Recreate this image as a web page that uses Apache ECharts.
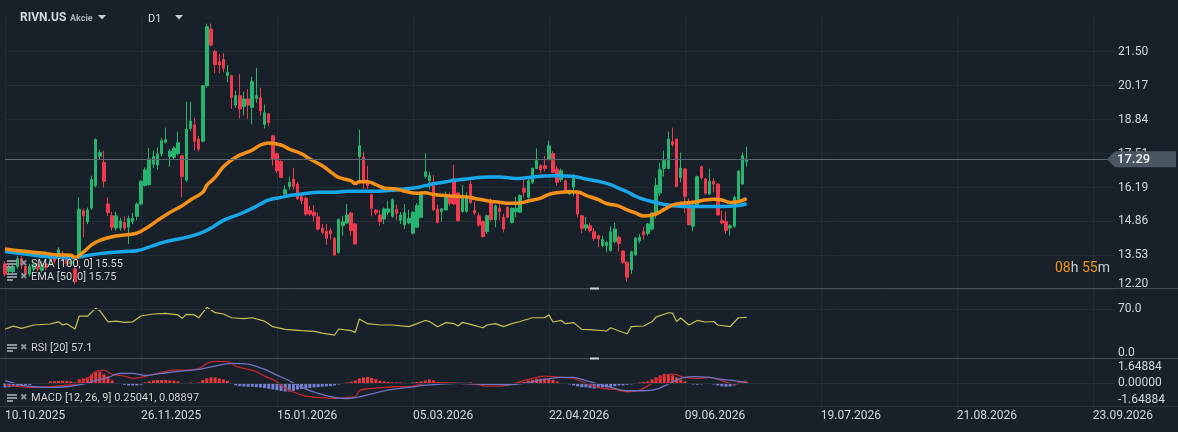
<!DOCTYPE html>
<html><head><meta charset="utf-8">
<script src="https://cdn.jsdelivr.net/npm/echarts@6/dist/echarts.min.js"></script>
<style>html,body{margin:0;padding:0;background:#18212a;}#c{width:1178px;height:432px;}</style>
</head><body><div id="c"></div>
<script>
// ---- data ----
const tickLabels = ['10.10.2025','26.11.2025','15.01.2026','05.03.2026','22.04.2026','09.06.2026','19.07.2026','21.08.2026','23.09.2026'];
const opens = [13.20,12.90,12.90,13.10,13.40,13.10,12.80,13.00,13.20,12.95,13.20,13.20,13.45,13.55,13.60,13.40,13.20,13.00,13.52,15.28,
14.85,15.38,16.26,17.41,17.17,15.54,15.08,14.60,14.60,14.82,14.63,14.85,15.06,15.54,16.26,16.30,17.10,17.07,17.50,17.96,
17.40,17.37,17.52,17.43,16.47,18.50,18.64,18.08,18.00,20.17,22.39,21.50,21.11,21.19,20.56,20.56,19.41,19.78,19.36,19.65,
19.32,19.67,19.70,18.66,19.06,18.21,17.51,17.20,15.93,16.23,16.52,16.32,15.83,15.77,15.28,15.22,15.04,14.59,14.47,14.50,
14.20,13.65,14.69,14.80,15.19,14.76,17.40,17.38,16.41,15.90,15.30,15.11,14.95,15.22,15.06,15.32,14.90,14.72,14.80,14.40,
14.63,15.02,16.62,16.45,16.35,15.35,15.24,15.31,15.76,16.52,15.97,15.25,15.25,16.32,15.30,15.08,14.86,14.46,15.60,14.92,
15.38,15.02,15.41,14.82,15.24,15.22,16.15,15.80,16.39,16.93,17.04,17.04,17.30,17.52,16.91,16.49,16.45,15.93,16.20,16.00,
15.08,14.60,14.69,14.46,14.30,13.91,13.91,13.72,14.07,14.24,13.70,13.26,12.97,13.56,14.10,14.46,14.39,14.56,15.15,15.97,
16.93,16.93,17.98,18.08,16.58,16.91,15.58,14.67,15.50,17.00,16.52,15.93,16.43,16.32,14.89,14.85,14.60,14.67,15.67,16.32,17.20];
const closes = [12.80,13.10,13.10,13.40,13.15,12.80,13.10,13.20,13.00,13.20,13.05,13.45,13.30,13.75,13.40,13.20,13.30,12.50,15.34,15.08,
15.31,16.50,18.06,17.56,16.43,15.21,14.63,15.08,14.88,14.60,14.98,14.98,15.54,16.43,16.88,17.30,17.40,17.50,18.02,18.06,
17.60,17.73,17.94,16.62,18.47,18.79,17.99,17.69,20.17,22.48,21.76,21.00,20.98,20.85,20.69,19.71,19.78,19.26,19.65,19.41,
20.33,19.78,19.19,19.11,18.73,17.30,16.84,16.58,16.10,16.39,16.23,15.74,15.67,15.15,15.15,15.08,14.56,14.43,14.20,14.37,
13.55,14.93,14.85,15.11,14.50,13.98,17.82,16.41,16.26,15.37,15.20,14.85,15.35,15.35,15.71,15.18,15.11,15.20,14.98,15.22,
15.48,15.90,16.80,16.65,15.31,14.82,15.35,15.80,15.56,15.54,14.89,15.87,15.80,15.60,15.19,14.72,14.27,15.08,14.93,15.47,
15.25,14.56,15.02,15.37,15.37,15.87,16.00,16.45,16.93,17.24,16.88,16.93,17.82,16.78,16.39,16.84,16.06,16.06,16.54,15.15,
14.59,14.73,14.50,14.20,14.17,14.15,14.03,14.46,14.56,14.00,13.26,12.67,13.67,14.21,14.24,14.34,14.76,15.19,16.26,16.88,
17.24,18.08,17.87,16.23,16.95,15.84,14.73,15.50,16.61,16.58,15.96,16.43,16.32,15.11,14.80,14.50,14.69,15.80,16.82,17.43,17.29];
const lows = [12.70,12.80,12.80,13.00,13.00,12.70,12.70,12.90,12.90,12.85,12.95,13.10,13.20,13.45,13.30,13.10,13.10,12.40,13.50,14.24,
14.75,15.30,16.19,17.30,16.20,15.08,14.50,14.50,14.50,14.50,13.97,14.75,14.91,15.50,16.23,16.25,16.94,16.88,17.40,17.90,
17.00,17.30,17.45,15.80,16.40,18.40,17.63,17.60,17.95,20.10,21.70,20.66,20.66,20.70,20.30,19.26,19.30,18.89,19.00,18.87,
18.66,19.50,18.99,18.50,18.60,17.04,16.75,16.55,15.87,16.10,16.10,15.70,15.54,15.08,15.08,14.85,14.50,14.35,13.94,14.15,
13.50,13.60,14.30,14.75,14.30,13.94,16.43,16.13,16.13,15.06,15.10,14.69,14.76,15.10,15.00,14.91,14.76,14.56,14.75,14.35,
14.60,14.98,16.54,16.10,15.28,14.78,14.85,15.28,15.47,15.50,14.85,15.20,15.20,15.54,15.11,14.65,14.22,14.37,14.85,14.63,
14.90,14.43,14.98,14.78,15.02,15.20,15.80,15.75,16.32,16.90,16.75,16.82,17.25,16.75,16.26,16.40,16.00,15.90,15.87,15.02,
14.40,14.50,14.43,14.10,13.85,13.85,13.65,13.68,14.00,13.68,13.20,12.50,12.80,13.50,14.00,14.15,14.30,14.50,14.98,15.87,
16.62,16.90,17.78,16.20,16.39,15.20,14.70,14.47,15.45,16.50,15.90,15.90,15.99,15.08,14.75,14.37,14.30,14.60,15.60,16.30,17.00];
const highs = [13.30,13.20,13.25,13.50,13.50,13.20,13.20,13.30,13.30,13.30,13.35,13.55,13.55,13.85,13.70,13.50,13.45,13.10,15.80,15.37,
15.40,16.65,18.11,17.67,17.63,15.80,15.24,15.24,15.00,15.06,15.08,15.20,15.60,16.48,16.97,17.73,17.63,17.76,18.13,18.53,
17.69,17.80,18.37,17.45,19.54,19.54,18.92,18.20,20.20,22.60,22.60,21.58,21.41,21.45,20.98,20.60,19.97,20.63,19.93,20.04,
20.52,20.87,20.09,19.43,19.10,18.25,17.55,17.25,16.26,16.61,16.96,16.40,15.87,15.82,15.47,15.50,15.20,14.76,14.76,14.59,
14.25,14.98,15.08,15.54,15.22,14.80,18.45,17.59,17.04,15.95,15.35,15.30,15.40,15.67,15.76,15.52,15.22,15.54,15.32,15.26,
15.58,15.95,17.52,16.80,16.67,15.52,15.39,16.02,15.99,17.08,16.00,16.28,16.00,16.45,15.63,15.20,14.90,15.12,15.76,15.52,
15.60,15.15,15.46,15.41,15.82,15.93,16.58,16.61,16.97,17.72,17.10,17.43,18.02,17.60,17.04,16.93,16.50,16.10,16.71,16.06,
15.12,15.04,14.80,14.60,14.35,14.30,14.10,14.67,14.81,14.30,13.75,13.30,13.72,14.24,14.37,14.65,14.80,15.24,16.56,17.16,
17.63,18.37,18.53,18.10,17.55,16.95,15.76,15.55,16.65,17.05,16.56,16.92,16.56,16.35,15.28,15.24,14.75,15.87,16.87,17.56,17.78];
// moving averages read at sampled bars [bar, value]
const sma100 = [[0,13.68],[4,13.60],[9,13.50],[13,13.45],[17,13.44],[19,13.50],[23,13.60],[29,13.68],[32,13.71],[36,13.91],[39,14.07],[43,14.20],[47,14.37],[50,14.60],[53,14.90],[57,15.15],[60,15.37],[62,15.54],[64,15.70],[67,15.80],[69,15.87],[72,15.93],[76,16.00],[80,16.00],[83,16.04],[86,16.04],[90,16.04],[92,16.06],[95,16.09],[97,16.13],[100,16.19],[102,16.26],[104,16.33],[107,16.41],[109,16.47],[112,16.52],[114,16.56],[117,16.60],[120,16.60],[124,16.54],[127,16.58],[131,16.64],[134,16.65],[138,16.62],[141,16.52],[144,16.43],[147,16.30],[149,16.15],[151,16.02],[153,15.85],[155,15.72],[158,15.60],[160,15.52],[163,15.46],[166,15.44],[170,15.44],[174,15.44],[178,15.48],[180,15.55]];
const ema50 = [[0,13.78],[4,13.70],[9,13.62],[13,13.55],[16,13.54],[17,13.45],[19,13.66],[21,13.94],[23,14.12],[26,14.26],[29,14.33],[32,14.40],[35,14.67],[37,14.90],[40,15.21],[43,15.47],[45,15.70],[48,16.00],[49,16.28],[51,16.58],[53,17.00],[56,17.37],[60,17.65],[62,17.85],[64,17.93],[67,17.85],[69,17.69],[72,17.50],[74,17.30],[77,17.04],[79,16.80],[81,16.58],[84,16.45],[85,16.34],[86,16.41],[88,16.41],[90,16.30],[92,16.17],[95,16.13],[97,16.04],[100,15.96],[102,15.98],[104,15.91],[107,15.87],[109,15.84],[112,15.82],[114,15.76],[117,15.67],[119,15.63],[123,15.57],[125,15.58],[127,15.66],[130,15.77],[132,15.92],[135,16.00],[137,16.02],[139,16.01],[141,15.88],[144,15.71],[146,15.56],[149,15.46],[151,15.31],[153,15.19],[155,15.07],[158,15.15],[160,15.33],[162,15.50],[164,15.57],[167,15.61],[169,15.67],[172,15.73],[174,15.70],[176,15.60],[178,15.63],[180,15.75]];
const rsi20 = [[0,38],[2,43],[4,39.6],[7,44.9],[11,46.5],[13,50],[14,44.9],[15,47],[17,38.5],[18,59.3],[20,59],[22,71.6],[23,67.8],[25,50],[27,51],[29,49.2],[31,50],[33,59.3],[36,62.5],[39,63.6],[42,61],[43,55.6],[44,62],[46,61],[47,56.5],[49,73.2],[51,64.7],[53,62.5],[55,56.5],[58,55],[60,56.5],[63,51],[65,42.2],[68,38],[72,36],[75,34.7],[77,32],[80,28.8],[81,38.5],[84,36],[85,33],[86,54.5],[88,47],[91,44.9],[94,44.9],[98,42.2],[100,47],[102,52.2],[103,50.5],[105,42.2],[107,48.7],[109,47],[110,43.3],[111,49],[113,46],[116,40.5],[117,44.9],[119,47],[121,42.2],[123,47],[125,50.5],[128,56.5],[131,56.5],[132,61.4],[133,49.7],[135,52.2],[136,47],[138,48.7],[140,37.9],[142,37.4],[146,35.3],[147,40.5],[149,35.3],[151,30.9],[152,42.2],[155,43.3],[157,50],[158,57.5],[161,64.5],[162,64],[163,50.5],[164,56],[166,44.9],[168,52.2],[170,49.7],[172,50.5],[173,44.9],[176,42.2],[178,56.5],[180,57.1]];
const macdLine = [[0,-0.17],[4,-0.33],[7,-0.4],[11,-0.33],[15,-0.17],[17,-0.1],[20,0.5],[22,1.17],[24,1.33],[26,0.93],[29,0.73],[31,0.5],[33,0.6],[37,1.0],[41,1.33],[45,1.33],[47,1.47],[49,2.0],[51,2.2],[54,2.17],[56,1.73],[59,1.4],[61,1.17],[63,0.73],[66,0.17],[68,-0.5],[71,-1.0],[73,-1.27],[76,-1.4],[80,-1.5],[83,-1.4],[85,-1.33],[86,-0.7],[89,-0.5],[91,-0.45],[94,-0.33],[98,-0.33],[102,0.0],[106,0.07],[110,0.0],[114,-0.07],[117,-0.27],[120,-0.27],[123,-0.07],[127,0.4],[131,0.73],[135,0.6],[138,0.5],[141,0.0],[145,-0.5],[148,-0.6],[151,-0.83],[154,-0.67],[157,0.0],[160,0.73],[162,0.93],[165,0.6],[168,0.5],[171,0.6],[174,0.27],[177,-0.07],[180,0.25]];
const signalLine = [[0,0.27],[4,-0.17],[7,-0.33],[11,-0.4],[15,-0.33],[19,-0.07],[21,0.17],[25,0.6],[28,1.0],[31,1.0],[34,0.8],[38,1.0],[42,1.2],[47,1.4],[51,1.73],[55,2.0],[59,1.93],[63,1.4],[66,0.83],[69,0.27],[72,-0.4],[76,-1.0],[80,-1.4],[83,-1.5],[86,-1.33],[90,-0.93],[94,-0.6],[98,-0.4],[102,-0.17],[106,-0.07],[110,0],[114,-0.03],[118,-0.1],[122,-0.13],[126,0],[130,0.33],[135,0.6],[138,0.6],[141,0.27],[145,-0.17],[148,-0.5],[151,-0.73],[155,-0.73],[158,-0.6],[161,-0.07],[164,0.5],[167,0.67],[171,0.6],[174,0.4],[177,0.27],[180,0.09]];
const macdHist = [-0.40,-0.37,-0.33,-0.30,-0.25,-0.20,-0.15,-0.05,0.02,0.02,0.05,0.20,0.22,0.25,0.27,0.25,0.20,0.10,0.40,0.50,
0.60,0.90,1.10,1.17,0.90,0.70,0.30,0.05,0.02,-0.13,-0.20,-0.20,-0.20,-0.13,0.10,0.20,0.30,0.33,0.33,0.33,
0.30,0.27,0.20,0.03,0.02,0.10,0.02,0.10,0.33,0.50,0.60,0.60,0.50,0.40,0.27,0.03,-0.20,-0.27,-0.30,-0.33,
-0.33,-0.37,-0.40,-0.47,-0.53,-0.60,-0.67,-0.75,-0.80,-0.80,-0.73,-0.60,-0.55,-0.50,-0.45,-0.40,-0.37,-0.33,-0.30,-0.27,
-0.20,-0.10,0.05,0.10,0.17,0.30,0.50,0.60,0.65,0.55,0.45,0.27,0.20,0.15,0.10,0.10,0.10,0.05,0.05,0.10,
0.15,0.20,0.30,0.40,0.30,0.15,0.10,0.10,0.03,0.10,0.03,0.03,0.05,0.10,-0.07,-0.10,-0.15,-0.15,-0.10,-0.05,
0.02,0.02,0.03,0.02,0.05,0.10,0.15,0.30,0.37,0.47,0.47,0.50,0.45,0.35,0.20,0.05,-0.05,-0.10,-0.20,-0.30,
-0.37,-0.40,-0.45,-0.50,-0.47,-0.40,-0.40,-0.35,-0.27,-0.20,-0.20,-0.13,-0.10,0.05,0.10,0.15,0.20,0.40,0.60,0.80,
0.93,0.93,0.80,0.60,0.40,0.20,0.02,-0.10,-0.13,-0.10,-0.05,-0.05,-0.10,-0.20,-0.30,-0.33,-0.30,-0.20,0.10,0.20,0.17];
const legendTexts = ['SMA [100, 0] 15.55','EMA [50, 0] 15.75','RSI [20] 57.1','MACD [12, 26, 9] 0.25041, 0.08897'];

// ---- chart ----
const BG = '#18212a', GRIDC = '#232d36', LBL = '#d3d7db', SEP = '#46505a';
const UP = '#26b46f', DOWN = '#ee3a4c';
const XMIN = 0, XMAX = 269.4, XSTEP = 33;
const priceStep = (21.50 - 12.20) / 7;
const macdStep = 1.64884;
const font = 'Roboto';

function xAx(idx, show) {
  return {
    type: 'value', gridIndex: idx, min: XMIN, max: XMAX, interval: XSTEP,
    show: show,
    axisLine: { show: false }, axisTick: { show: false },
    splitLine: { show: show, showMaxLine: false, lineStyle: { color: GRIDC, width: 1 } },
    axisLabel: {
      show: show, color: LBL, fontSize: 12, fontFamily: font, align: 'left', margin: 4,
      showMaxLabel: false,
      formatter: function (v) { const k = Math.round(v / XSTEP); return Math.abs(v - k * XSTEP) < 1e-6 ? (tickLabels[k] || '') : ''; }
    }
  };
}

const chart = echarts.init(document.getElementById('c'), null, { renderer: 'canvas' });
const candleData = opens.map((o, i) => [i, o, closes[i], lows[i], highs[i]]);
const lastClose = closes[closes.length - 1];

const option = {
  backgroundColor: BG,
  animation: false,
  grid: [
    { left: 5, right: 63, top: 18, height: 271.4, outerBoundsMode: 'none', containLabel: false },
    { left: 5, right: 63, top: 288, height: 65, outerBoundsMode: 'none', containLabel: false },
    { left: 5, right: 63, top: 358, height: 42, outerBoundsMode: 'none', containLabel: false },
    { left: 5, right: 63, top: 18, height: 388, outerBoundsMode: 'none', containLabel: false }
  ],
  xAxis: [xAx(0, false), xAx(1, false), xAx(2, false), xAx(3, true)],
  yAxis: [
    { type: 'value', gridIndex: 0, position: 'right', min: 12.20, max: 22.818, interval: priceStep,
      axisLine: { show: false }, axisTick: { show: false },
      splitLine: { show: true, showMaxLine: false, lineStyle: { color: GRIDC } },
      axisLabel: { color: LBL, fontSize: 12, fontFamily: font, margin: 3, showMaxLabel: false,
        formatter: function (v, i) { return i === 0 ? '{lo|' + v.toFixed(2) + '}' : v.toFixed(2); },
        rich: { lo: { color: LBL, fontSize: 12, fontFamily: font, padding: [0, 0, 11, 0] } } } },
    { type: 'value', gridIndex: 1, position: 'right', min: 0, max: 104.2, interval: 70,
      axisLine: { show: false }, axisTick: { show: false }, splitLine: { show: false },
      axisLabel: { color: LBL, fontSize: 12, fontFamily: font, margin: 3, showMaxLabel: false,
        formatter: function (v) { return v.toFixed(1); } } },
    { type: 'value', gridIndex: 2, position: 'right', min: -macdStep, max: 2.53, interval: macdStep,
      axisLine: { show: false }, axisTick: { show: false }, splitLine: { show: false },
      axisLabel: { color: LBL, fontSize: 12, fontFamily: font, margin: 3, showMaxLabel: false,
        formatter: function (v) { return (Math.abs(v) < 1e-9 ? 0 : v).toFixed(5); } } },
    { type: 'value', gridIndex: 3, min: 0, max: 1, show: false }
  ],
  series: [
    { type: 'candlestick', name: 'RIVN.US', xAxisIndex: 0, yAxisIndex: 0, data: candleData,
      encode: { x: 0, y: [1, 2, 3, 4] }, barWidth: 3, clip: false, z: 2,
      itemStyle: { color: UP, color0: DOWN, borderColor: UP, borderColor0: DOWN, borderWidth: 1 },
      markLine: { silent: true, symbol: ['none', 'none'], label: { show: false },
        lineStyle: { color: '#5c6772', width: 1, type: 'solid' }, data: [{ yAxis: lastClose }] } },
    { type: 'line', name: 'SMA', xAxisIndex: 0, yAxisIndex: 0, data: sma100, showSymbol: false, smooth: 0.4,
      clip: false, z: 3, lineStyle: { color: '#17a6e8', width: 3.5 } },
    { type: 'line', name: 'EMA', xAxisIndex: 0, yAxisIndex: 0, data: ema50, showSymbol: false, smooth: 0.4,
      clip: false, z: 3, lineStyle: { color: '#f3901a', width: 3.5 } },
    { type: 'line', name: 'RSI', xAxisIndex: 1, yAxisIndex: 1, data: rsi20, showSymbol: false, smooth: false,
      lineStyle: { color: '#c9c152', width: 1.2 },
      markLine: { silent: true, symbol: ['none', 'none'], label: { show: false },
        lineStyle: { color: GRIDC, width: 1, type: 'solid' }, data: [{ yAxis: 70 }] } },
    { type: 'bar', name: 'HIST', xAxisIndex: 2, yAxisIndex: 2, data: macdHist.map((v, i) => [i, v]), barWidth: 3,
      itemStyle: { color: function (p) { return p.value[1] >= 0 ? '#e8383b' : '#7880d2'; } },
      markLine: { silent: true, symbol: ['none', 'none'], label: { show: false },
        lineStyle: { color: '#2a343e', width: 1, type: 'solid' }, data: [{ yAxis: 0 }] } },
    { type: 'line', name: 'MACD', xAxisIndex: 2, yAxisIndex: 2, data: macdLine, showSymbol: false, smooth: 0.3,
      z: 4, lineStyle: { color: '#c0272d', width: 1.3 } },
    { type: 'line', name: 'Signal', xAxisIndex: 2, yAxisIndex: 2, data: signalLine, showSymbol: false, smooth: 0.3,
      z: 4, lineStyle: { color: '#6d75c2', width: 1.3 } }
  ]
};
chart.setOption(option);

function legendIcon(x, y) {
  return [
    { type: 'rect', shape: { x: x, y: y - 4, width: 10, height: 2 }, style: { fill: '#8b939a' } },
    { type: 'rect', shape: { x: x, y: y - 1, width: 10, height: 2 }, style: { fill: '#8b939a' } },
    { type: 'rect', shape: { x: x, y: y + 2, width: 6, height: 2 }, style: { fill: '#8b939a' } },
    { type: 'text', x: x + 13, y: y, style: { text: '✖', fill: '#8b939a', font: '9px DejaVu Sans', verticalAlign: 'middle' } }
  ];
}
function legendText(x, y, t) {
  return { type: 'text', x: x, y: y, style: { text: t, fill: '#d6d9dc', font: '11px Roboto', verticalAlign: 'middle',
    textShadowColor: '#000', textShadowBlur: 2 } };
}

const py = chart.convertToPixel({ xAxisIndex: 0, yAxisIndex: 0 }, [0, lastClose])[1];
const g = [];
// header
g.push({ type: 'text', x: 20, y: 18, style: { text: 'RIVN.US', fill: '#d6d9dc', font: 'bold 12px Roboto', verticalAlign: 'middle' } });
g.push({ type: 'text', x: 70, y: 19, style: { text: 'Akcie', fill: '#a9b0b6', font: 'bold 9px Roboto', verticalAlign: 'middle' } });
g.push({ type: 'polygon', shape: { points: [[98, 15], [106, 15], [102, 19.5]] }, style: { fill: '#c9cdd1' } });
g.push({ type: 'text', x: 148, y: 19, style: { text: 'D1', fill: '#d6d9dc', font: '11px Roboto', verticalAlign: 'middle' } });
g.push({ type: 'polygon', shape: { points: [[175, 15], [183, 15], [179, 19.5]] }, style: { fill: '#c9cdd1' } });
// pane separators
g.push({ type: 'line', shape: { x1: 0, y1: 288.5, x2: 1178, y2: 288.5 }, style: { stroke: SEP, lineWidth: 1 }, z: 10 });
g.push({ type: 'line', shape: { x1: 0, y1: 358.5, x2: 1178, y2: 358.5 }, style: { stroke: SEP, lineWidth: 1 }, z: 10 });
g.push({ type: 'line', shape: { x1: 0, y1: 406.5, x2: 1178, y2: 406.5 }, style: { stroke: '#2b353f', lineWidth: 1 }, z: 1 });
g.push({ type: 'rect', shape: { x: 590, y: 287.5, width: 9, height: 2 }, style: { fill: '#d0d0d0' }, z: 11 });
g.push({ type: 'rect', shape: { x: 590, y: 357.5, width: 9, height: 2 }, style: { fill: '#d0d0d0' }, z: 11 });
// legends
[[264, 0], [277, 1], [348, 2], [398, 3]].forEach(function (p) {
  legendIcon(7, p[0]).forEach(function (e) { e.z = 20; g.push(e); });
  const t = legendText(31, p[0], legendTexts[p[1]]); t.z = 20; g.push(t);
});
// countdown
g.push({ type: 'text', x: 1055, y: 268, z: 20, style: { text: '{o|08}{w|h }{o|55}{w|m}', verticalAlign: 'middle',
  rich: { o: { fill: '#f39417', font: '14px Roboto' }, w: { fill: '#c9cdd1', font: '14px Roboto' } } } });
// current price tag
g.push({ type: 'polygon', z: 30, shape: { points: [[1107, py], [1115, py - 8], [1176, py - 8], [1176, py + 8], [1115, py + 8]] }, style: { fill: '#4a5763' } });
g.push({ type: 'text', x: 1117, y: py + 0.5, z: 31, style: { text: lastClose.toFixed(2), fill: '#eef1f3', font: '500 13px Roboto', verticalAlign: 'middle' } });
chart.setOption({ graphic: g });
</script></body></html>
